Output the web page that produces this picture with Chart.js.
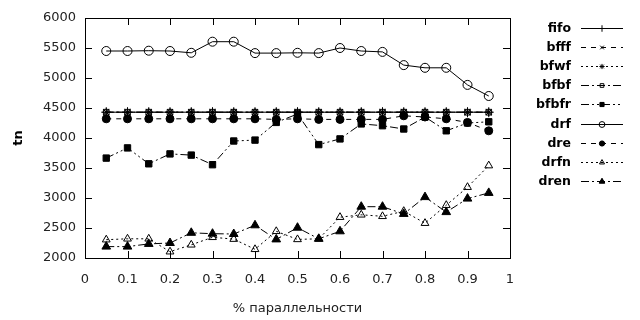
<!DOCTYPE html>
<html>
<head>
<meta charset="utf-8">
<script src="https://cdn.jsdelivr.net/npm/chart.js@4.4.1/dist/chart.umd.min.js"></script>
<style>
  html, body { margin: 0; padding: 0; background: #fff; }
  #wrap { width: 640px; height: 320px; }
</style>
</head>
<body>
<div id="wrap"><canvas id="c"></canvas></div>
<script>
/* Доля параллельности (ось X) */
const XS = [0.05, 0.1, 0.15, 0.2, 0.25, 0.3, 0.35, 0.4, 0.45, 0.5,
            0.55, 0.6, 0.65, 0.7, 0.75, 0.8, 0.85, 0.9, 0.95];

/* tn по каждой дисциплине */
const FIFO  = [4430, 4430, 4430, 4430, 4430, 4430, 4430, 4430, 4430, 4430, 4430, 4430, 4430, 4430, 4430, 4430, 4430, 4430, 4430];
const BFFF  = [4430, 4430, 4430, 4430, 4430, 4430, 4430, 4430, 4430, 4430, 4430, 4430, 4430, 4430, 4430, 4430, 4430, 4430, 4430];
const BFWF  = [4430, 4430, 4430, 4430, 4430, 4430, 4430, 4430, 4430, 4430, 4430, 4430, 4430, 4430, 4430, 4430, 4430, 4430, 4430];
const BFBF  = [4430, 4430, 4430, 4430, 4430, 4430, 4430, 4430, 4430, 4430, 4430, 4430, 4430, 4430, 4430, 4430, 4430, 4430, 4430];
const BFBFR = [3665, 3835, 3570, 3735, 3715, 3555, 3950, 3965, 4260, 4400, 3890, 3985, 4235, 4205, 4150, 4350, 4120, 4250, 4270];
const DRF   = [5450, 5450, 5455, 5450, 5420, 5605, 5605, 5415, 5415, 5420, 5415, 5500, 5450, 5435, 5215, 5170, 5170, 4885, 4700];
const DRE   = [4320, 4320, 4320, 4320, 4320, 4320, 4320, 4320, 4310, 4320, 4310, 4310, 4310, 4310, 4370, 4350, 4320, 4260, 4120];
const DRFN  = [2305, 2320, 2320, 2105, 2220, 2345, 2315, 2145, 2445, 2310, 2320, 2680, 2720, 2695, 2780, 2580, 2880, 3180, 3540];
const DREN  = [2190, 2190, 2235, 2250, 2420, 2405, 2400, 2545, 2310, 2505, 2320, 2445, 2855, 2855, 2735, 3015, 2765, 2990, 3085];

const X_MIN = 0, X_MAX = 1, X_STEP = 0.1;
const Y_MIN = 2000, Y_MAX = 6000, Y_STEP = 500;

const FONT = '"DejaVu Sans", Verdana, sans-serif';
const INK = '#000';
const NONE = 'rgba(0,0,0,0)';

const pts = ys => ys.map((y, i) => ({ x: XS[i], y }));

/* стиль гнуплота: всё чёрное, различаются пунктиром и маркером */
function series(label, ys, dash, pointStyle, filled, radius) {
  return {
    label,
    data: pts(ys),
    borderColor: INK,
    borderWidth: 1,
    borderDash: dash,
    pointStyle,
    pointRadius: radius,
    pointBorderColor: INK,
    pointBorderWidth: 1,
    pointBackgroundColor: filled ? INK : NONE,
    backgroundColor: filled ? INK : NONE,
    tension: 0,
    fill: false,
  };
}

const datasets = [
  series('fifo',  FIFO,  [],                 'cross',    false, 5),
  series('bfff',  BFFF,  [5, 5],             'crossRot', false, 4),
  series('bfwf',  BFWF,  [2, 3],             'star',     false, 4),
  series('bfbf',  BFBF,  [8, 3, 2, 3],       'rect',     false, 4),
  series('bfbfr', BFBFR, [8, 3, 2, 3, 2, 3], 'rect',     true,  4.5),
  series('drf',   DRF,   [],                 'circle',   false, 4.5),
  series('dre',   DRE,   [5, 5],             'circle',   true,  4),
  series('drfn',  DRFN,  [2, 3],             'triangle', false, 4.5),
  series('dren',  DREN,  [8, 3, 2, 3],       'triangle', true,  5),
];

/* рамка с засечками внутрь на всех четырёх сторонах, как в gnuplot */
const frame = {
  id: 'frame',
  afterDatasetsDraw(chart) {
    const { ctx, chartArea: a, scales } = chart;
    const T = 7;
    ctx.save();
    ctx.strokeStyle = INK;
    ctx.lineWidth = 1;
    ctx.setLineDash([]);
    ctx.beginPath();
    scales.x.ticks.forEach(t => {
      const px = Math.round(scales.x.getPixelForValue(t.value)) + 0.5;
      ctx.moveTo(px, a.bottom); ctx.lineTo(px, a.bottom - T);
      ctx.moveTo(px, a.top);    ctx.lineTo(px, a.top + T);
    });
    scales.y.ticks.forEach(t => {
      const py = Math.round(scales.y.getPixelForValue(t.value)) + 0.5;
      ctx.moveTo(a.left, py);  ctx.lineTo(a.left + T, py);
      ctx.moveTo(a.right, py); ctx.lineTo(a.right - T, py);
    });
    ctx.stroke();
    ctx.strokeRect(Math.round(a.left) + 0.5, Math.round(a.top) + 0.5,
                   Math.round(a.right - a.left), Math.round(a.bottom - a.top));
    ctx.restore();
  },
};

/* легенда справа: подпись, затем образец линии с маркером */
const key = {
  id: 'key',
  afterDraw(chart) {
    const { ctx } = chart;
    const textRight = 571, x0 = 581, x1 = 623, top = 28, step = 19.1;
    ctx.save();
    ctx.font = 'bold 12.5px ' + FONT;
    ctx.textAlign = 'right';
    ctx.textBaseline = 'middle';
    chart.data.datasets.forEach((ds, i) => {
      const y = Math.round(top + i * step) + 0.5;
      ctx.fillStyle = INK;
      ctx.fillText(ds.label, textRight, y);
      ctx.strokeStyle = INK;
      ctx.lineWidth = 1;
      ctx.setLineDash(ds.borderDash);
      ctx.beginPath();
      ctx.moveTo(x0, y); ctx.lineTo(x1, y);
      ctx.stroke();
      ctx.setLineDash([]);
      ctx.fillStyle = ds.pointBackgroundColor;
      Chart.helpers.drawPoint(ctx, {
        pointStyle: ds.pointStyle,
        radius: ds.pointRadius * 0.65,
        rotation: 0,
        borderWidth: 1,
      }, (x0 + x1) / 2, y);
      if (ds.pointBackgroundColor !== NONE) ctx.fill();
    });
    ctx.restore();
  },
};

new Chart(document.getElementById('c'), {
  type: 'line',
  data: { datasets },
  options: {
    responsive: true,
    maintainAspectRatio: false,
    animation: false,
    layout: { padding: { left: 0, top: 18, right: 130, bottom: 0 } },
    plugins: { legend: { display: false }, tooltip: { enabled: false } },
    scales: {
      x: {
        type: 'linear',
        min: X_MIN, max: X_MAX,
        grid: { display: false, drawTicks: false },
        border: { display: false },
        ticks: {
          stepSize: X_STEP,
          padding: 14,
          color: '#222',
          font: { family: FONT, size: 13 },
          callback: v => String(Math.round(v * 10) / 10),
        },
        title: {
          display: true,
          text: '% параллельности',
          color: '#222',
          font: { family: FONT, size: 13 },
          padding: { top: 4, bottom: 4 },
        },
        afterFit: s => { s.height = 62; },
      },
      y: {
        min: Y_MIN, max: Y_MAX,
        grid: { display: false, drawTicks: false },
        border: { display: false },
        ticks: {
          stepSize: Y_STEP,
          padding: 9,
          color: '#222',
          font: { family: FONT, size: 13 },
          callback: v => String(v),
        },
        title: {
          display: true,
          text: 'tn',
          color: INK,
          font: { family: FONT, size: 13, weight: 'bold' },
          padding: { top: 11, bottom: 0 },
        },
        afterFit: s => { s.width = 85; },
      },
    },
  },
  plugins: [frame, key],
});
</script>
</body>
</html>
